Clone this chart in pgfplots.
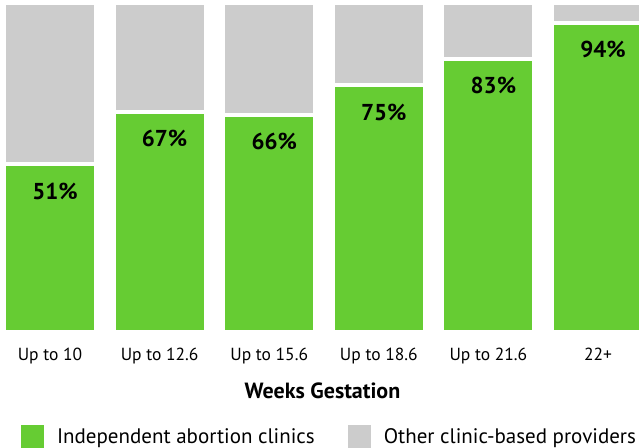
\documentclass[border=0pt]{standalone}
\usepackage{fontspec}
\setmainfont{PT Sans}
\usepackage{pgfplots}
\pgfplotsset{compat=1.18}
\definecolor{cgreen}{HTML}{66CC33}
\definecolor{cgray}{HTML}{CCCCCC}
\begin{document}
\begin{tikzpicture}
\begin{axis}[
 at={(0bp,-332bp)}, anchor=south west,
 scale only axis, width=639bp, height=329bp,
 xmin=-0.4562, xmax=5.3741, ymin=0, ymax=100,
 ybar stacked, bar width=92bp,
 axis line style={draw=none}, major tick length=0pt,
 ytick=\empty,
 xtick={0,1,2,3,4,5},
 xticklabels={Up to 10, Up to 12.6, Up to 15.6, Up to 18.6, Up to 21.6, 22+},
 xticklabel style={font=\fontsize{17.5bp}{20bp}\selectfont, anchor=base, yshift=-28bp, inner sep=0pt},
 xlabel={Weeks Gestation},
 xlabel style={at={(axis description cs:0.5,0)}, anchor=base, yshift=-66bp, xshift=3bp, font=\bfseries\fontsize{22bp}{24bp}\selectfont, inner sep=0pt},
 legend columns=2,
 legend style={at={(axis description cs:0,0)}, anchor=north west, xshift=21bp, yshift=-93bp, draw=none, fill=none, inner sep=0pt, outer sep=0pt, font=\fontsize{21bp}{24bp}\selectfont, nodes={inner sep=0pt, anchor=base west}, /tikz/every odd column/.style={column sep=13bp}, /tikz/every even column/.style={column sep=33bp}},
 legend image code/.code={\fill[#1,draw=none] (0bp,-5bp) rectangle (23bp,18bp);},
 every axis plot/.append style={draw=white, line width=4bp},
]
\addplot[fill=cgreen, visualization depends on={rawy \as \rawy},
  nodes near coords={\pgfmathprintnumber[assume math mode=true]{\pgfplotspointmeta}\%},
  every node near coord/.append style={anchor=base, yshift={\rawy*1.645bp-35bp}, xshift=5bp, font=\bfseries\fontsize{23bp}{26bp}\selectfont, text=black}]
  coordinates {(0,51)(1,67)(2,66)(3,75)(4,83)(5,94)};
\addplot[fill=cgray] coordinates {(0,49)(1,33)(2,34)(3,25)(4,17)(5,6)};
\legend{Independent abortion clinics, Other clinic-based providers}
\end{axis}
\pgfresetboundingbox
\path[use as bounding box] (0bp,0bp) rectangle (639bp,-448bp);
\end{tikzpicture}
\end{document}
